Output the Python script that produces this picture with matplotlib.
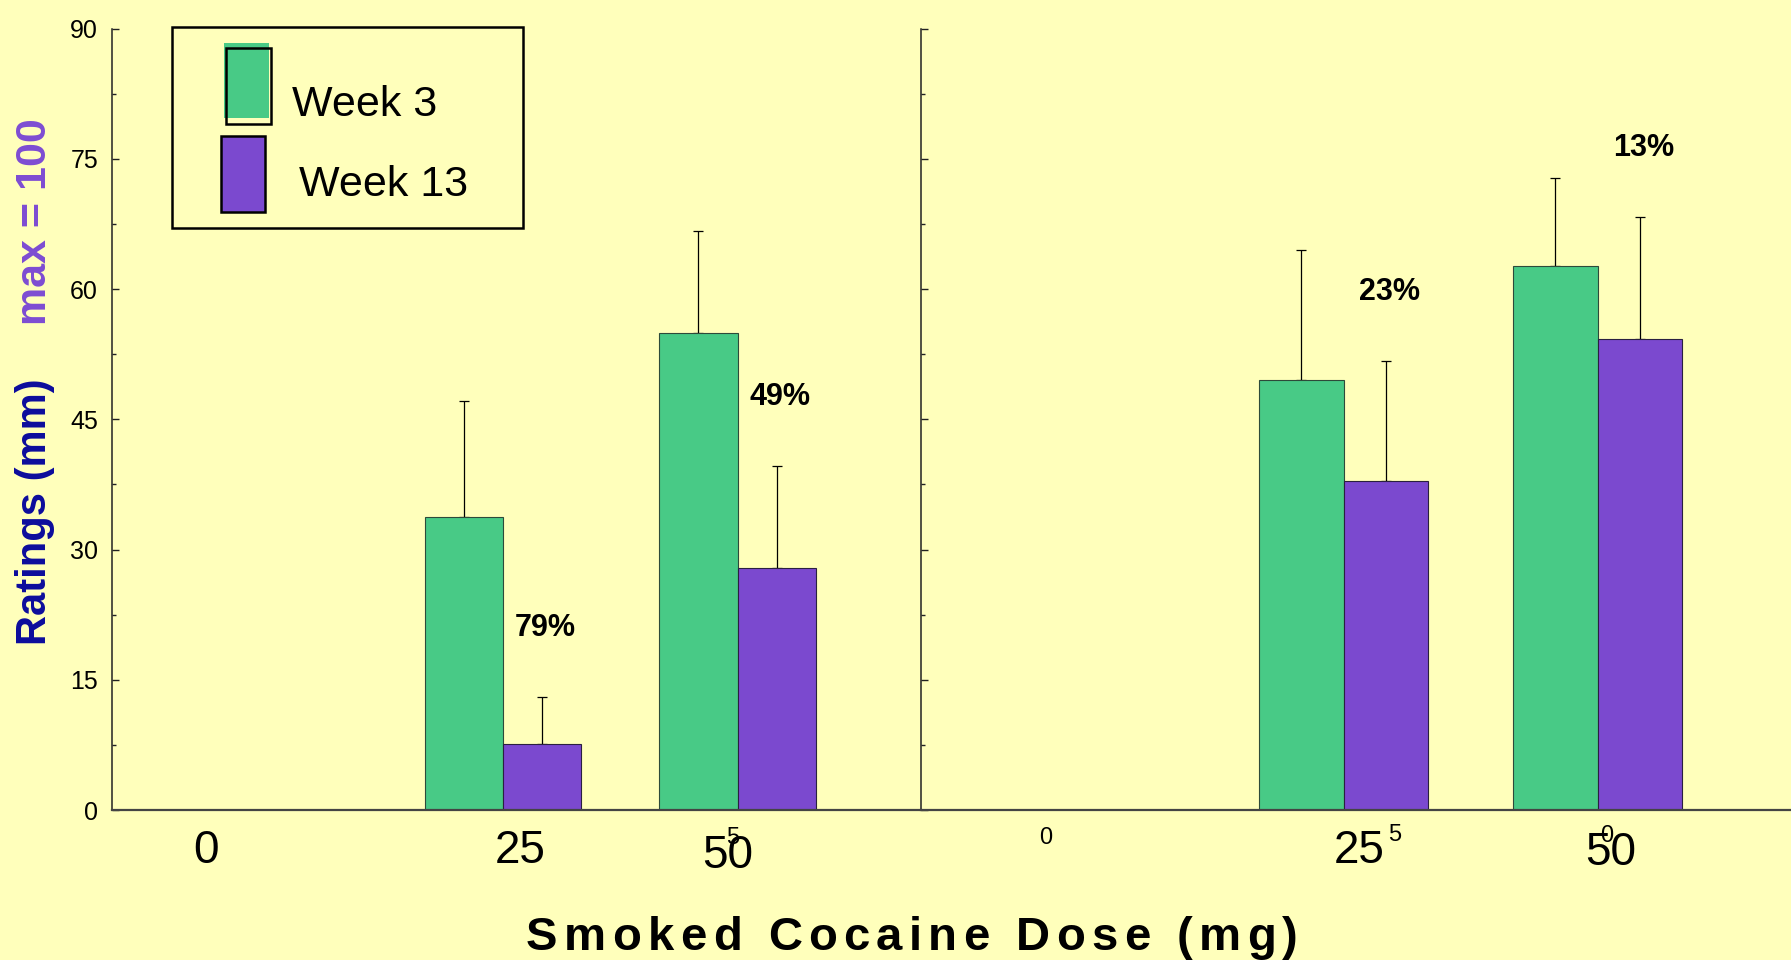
import matplotlib.pyplot as plt
from matplotlib.patches import Rectangle
from matplotlib.font_manager import FontProperties

plt.rcParams['font.family'] = ['Liberation Sans', 'DejaVu Sans']

W, H = 1791, 960
BG = '#FFFFBB'
GREEN = '#48CA86'
PURPLE = '#7B49CF'
NAVY = '#0C0C9C'
LILAC = '#7D4CD3'

# dose groups (0, 25, 50 mg) sit at positions 0, 1, 2
positions = [0, 1, 2]

left_wk3 = [0, 33.8, 54.9]
left_wk3_err = [0, 13.3, 11.8]
left_wk13 = [0, 7.6, 27.9]
left_wk13_err = [0, 5.4, 11.7]
left_drop = ['', '79%', '49%']

right_wk3 = [0, 49.5, 62.6]
right_wk3_err = [0, 15.0, 10.2]
right_wk13 = [0, 37.9, 54.3]
right_wk13_err = [0, 13.8, 14.0]
right_drop = ['', '23%', '13%']

yticks = [0, 15, 30, 45, 60, 75, 90]
ytick_minor = [7.5, 22.5, 37.5, 52.5, 67.5, 82.5]

# dose labels under the bars: (text, x px, y px, size)
dose_labels = [
    ('0', 205.6, 851, 33), ('25', 520, 851, 33), ('50', 727.6, 856, 33),
    ('5', 732.5, 838, 17),
    ('0', 1046, 838, 17), ('25', 1359, 851, 33), ('5', 1394.6, 835, 17),
    ('50', 1610.5, 853, 33), ('0', 1607, 836, 17),
]
legend_names = ['Week 3', 'Week 13']
title = 'Smoked Cocaine Dose (mg)'

fig = plt.figure(figsize=(W / 100, H / 100), dpi=100, facecolor=BG)


def fx(x):
    return x / W


def fy(y):
    return 1 - y / H


y_base, y_top = 810, 28.6
ax_l = fig.add_axes([fx(112), fy(y_base), (920.6 - 112) / W, (y_base - y_top) / H])
ax_r = fig.add_axes([fx(920.6), fy(y_base), (1796 - 920.6) / W, (y_base - y_top) / H])


def draw_panel(ax, wk3, wk3_err, wk13, wk13_err, drops, labels):
    ax.set_facecolor('none')
    ax.set_xlim(-0.665, 2.78)
    ax.set_ylim(0, 90)
    w = 0.333
    idx = [i for i in range(len(positions)) if wk3[i] > 0]
    xs = [positions[i] for i in idx]
    g = [wk3[i] for i in idx]
    p = [wk13[i] for i in idx]
    ax.bar([x - w / 2 for x in xs], g, w, color=GREEN, edgecolor='#2d4a3a',
           linewidth=0.8, zorder=2)
    ax.bar([x + w / 2 for x in xs], p, w, color=PURPLE, edgecolor='#2a2040',
           linewidth=0.8, zorder=2)
    ax.errorbar([x - w / 2 for x in xs], g, yerr=[[0] * len(idx), [wk3_err[i] for i in idx]],
                fmt='none', ecolor='black', elinewidth=0.9, capsize=3.5, capthick=0.9, zorder=1)
    ax.errorbar([x + w / 2 for x in xs], p, yerr=[[0] * len(idx), [wk13_err[i] for i in idx]],
                fmt='none', ecolor='black', elinewidth=0.9, capsize=3.5, capthick=0.9, zorder=1)
    for i in idx:
        ax.text(positions[i] + 0.18, wk13[i] + wk13_err[i] + 8, drops[i],
                ha='center', va='center', fontsize=22, fontweight='bold')

    for s in ('top', 'right'):
        ax.spines[s].set_visible(False)
    ax.spines['left'].set_color('#222222')
    ax.spines['left'].set_linewidth(1.1)
    ax.spines['bottom'].set_color('#444444')
    ax.spines['bottom'].set_linewidth(1.6)
    ax.set_xticks([])
    ax.set_yticks(yticks)
    ax.set_yticks(ytick_minor, minor=True)
    ax.tick_params(axis='y', which='major', direction='in', length=5, width=1.0,
                   color='#222222', pad=10, labelsize=18, labelleft=labels)
    ax.tick_params(axis='y', which='minor', direction='in', length=3, width=1.0,
                   color='#222222')


draw_panel(ax_l, left_wk3, left_wk3_err, left_wk13, left_wk13_err, left_drop, True)
draw_panel(ax_r, right_wk3, right_wk3_err, right_wk13, right_wk13_err, right_drop, False)

for txt, x, y, size in dose_labels:
    fig.text(fx(x), fy(y), txt, ha='center', va='center', fontsize=size)

# axis titles
fig.text(fx(35), fy(512), 'Ratings (mm)', rotation=90, ha='center', va='center',
         fontsize=30, fontweight='bold', color=NAVY)
fig.text(fx(35), fy(221.5), 'max = 100', rotation=90, ha='center', va='center',
         fontsize=31, fontweight='bold', color=LILAC)

# letter-spaced x title, one glyph at a time
prop = FontProperties(family='Liberation Sans', weight='bold', size=34)
renderer = fig.canvas.get_renderer()
base = renderer.get_text_width_height_descent('xx', prop, ismath=False)[0]
advs = [renderer.get_text_width_height_descent('x' + c + 'x', prop, ismath=False)[0] - base
        for c in title]
gap = 6.4
x = 912 - (sum(advs) + gap * (len(title) - 1)) / 2
for c, a in zip(title, advs):
    fig.text(fx(x), fy(949.5), c, fontproperties=prop, ha='left', va='baseline')
    x += a + gap

# legend
def box(x0, y0, x1, y1, **kw):
    fig.add_artist(Rectangle((fx(x0), fy(y1)), (x1 - x0) / W, (y1 - y0) / H,
                             transform=fig.transFigure, **kw))


box(172, 27.5, 523, 227.5, fill=False, edgecolor='black', linewidth=1.8)
box(223.5, 42.5, 268.5, 118, facecolor=GREEN, edgecolor='none')
box(226, 47.5, 270.5, 123.5, fill=False, edgecolor='black', linewidth=1.8)
box(220.5, 136, 264.5, 211.5, facecolor=PURPLE, edgecolor='black', linewidth=1.8)
fig.text(fx(292), fy(115.5), legend_names[0], fontsize=31, va='baseline')
fig.text(fx(299), fy(196.5), legend_names[1], fontsize=31, va='baseline')

fig.savefig('out.png', dpi=100, facecolor=BG)
